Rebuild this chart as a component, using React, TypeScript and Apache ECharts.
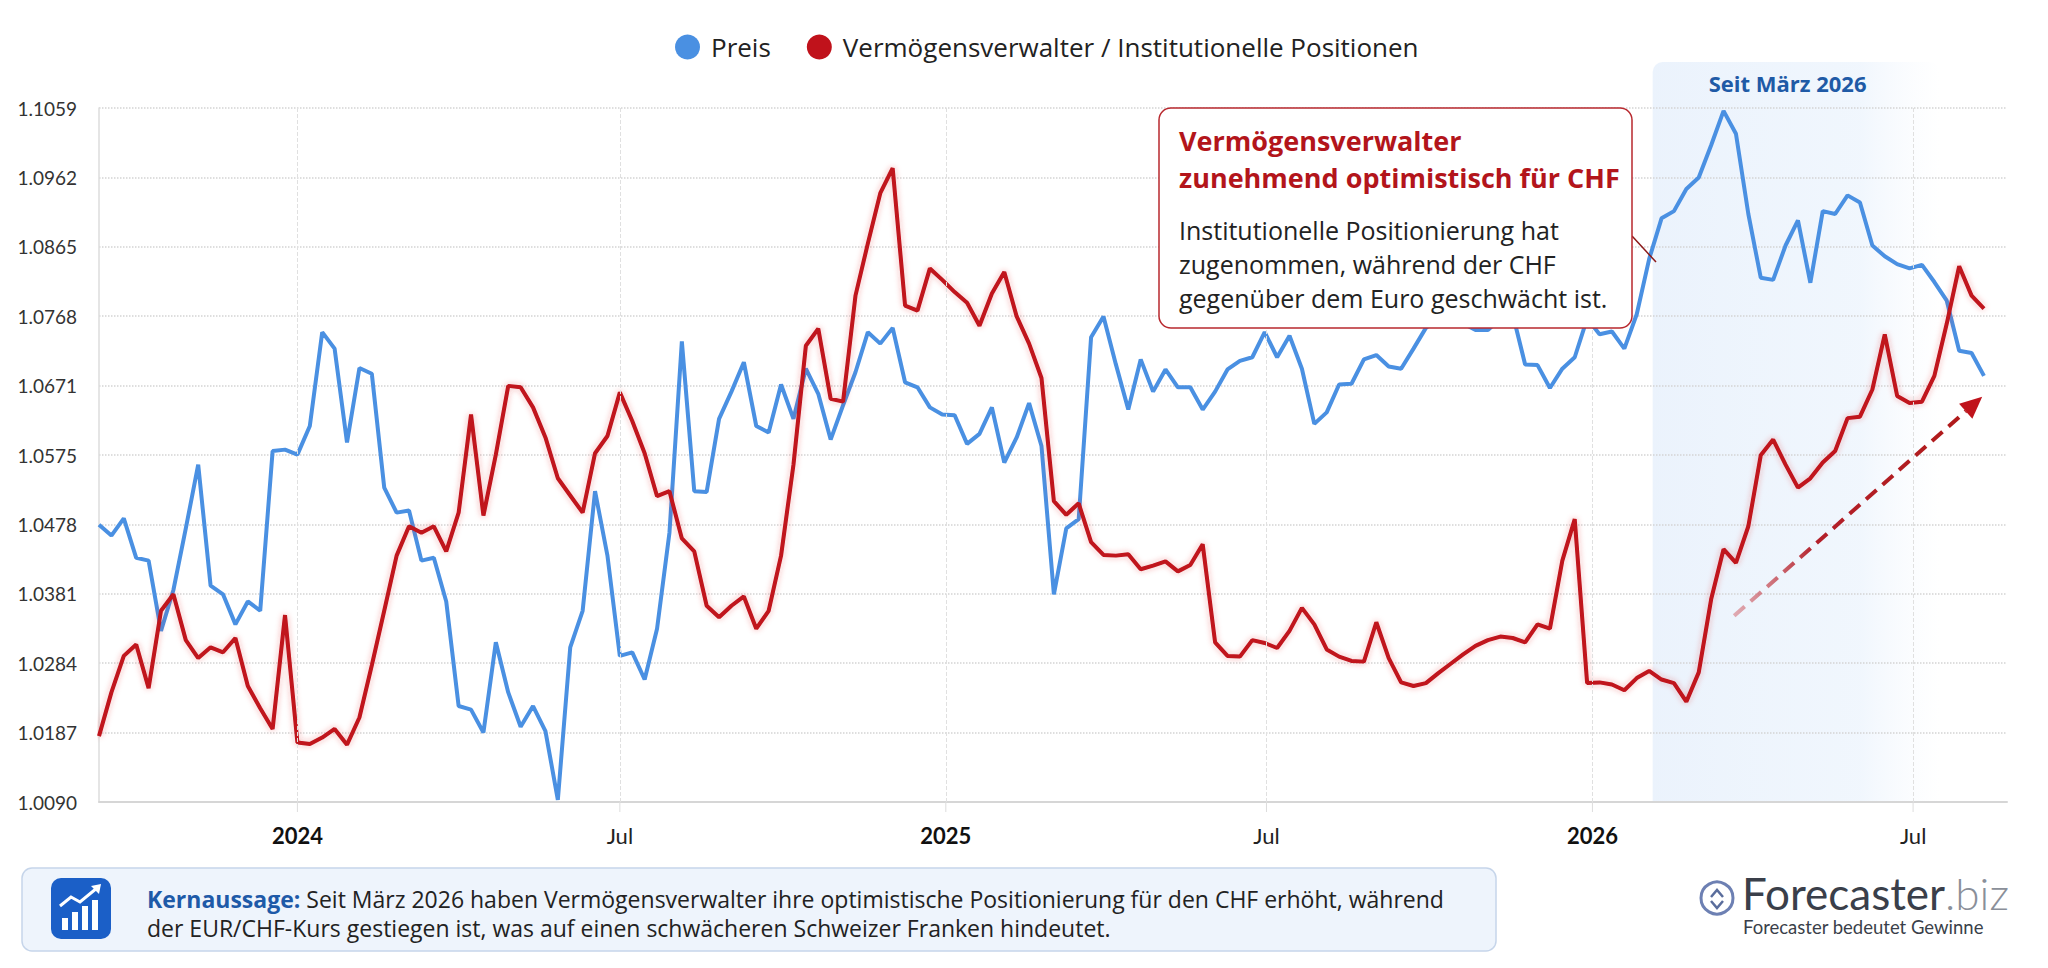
import React, { useEffect, useRef } from 'react';
import * as echarts from 'echarts';

const DAY = 86400000;
const utc = (s: string) => {
  const [y, m, d] = s.split('-').map(Number);
  return Date.UTC(y, m - 1, d);
};

// weekly observations, first week starting 2023-09-11
const firstWeek = '2023-09-11';
const axisStart = '2023-09-11';
const axisEnd = '2026-08-23';
const xTickDates = ['2024-01-01', '2024-07-01', '2025-01-01', '2025-07-01', '2026-01-01', '2026-07-01'];

const yTickLabels = ['1.0090', '1.0187', '1.0284', '1.0381', '1.0478', '1.0575', '1.0671', '1.0768', '1.0865', '1.0962', '1.1059'];

// EUR/CHF price
const priceValues = [
  1.0477, 1.0462, 1.0486, 1.0431, 1.0427, 1.0329, 1.0386, 1.0472, 1.0561, 1.0392,
  1.0380, 1.0338, 1.0370, 1.0357, 1.0580, 1.0582, 1.0575, 1.0615, 1.0746, 1.0723,
  1.0592, 1.0696, 1.0688, 1.0529, 1.0494, 1.0497, 1.0427, 1.0431, 1.0370, 1.0224,
  1.0219, 1.0187, 1.0313, 1.0243, 1.0195, 1.0224, 1.0189, 1.0093, 1.0306, 1.0357,
  1.0524, 1.0434, 1.0294, 1.0299, 1.0261, 1.0332, 1.0466, 1.0733, 1.0524, 1.0523,
  1.0625, 1.0663, 1.0704, 1.0615, 1.0606, 1.0673, 1.0625, 1.0695, 1.0660, 1.0596,
  1.0644, 1.0690, 1.0746, 1.0730, 1.0752, 1.0676, 1.0669, 1.0641, 1.0631, 1.0630,
  1.0590, 1.0604, 1.0641, 1.0564, 1.0599, 1.0647, 1.0587, 1.0380, 1.0472, 1.0485,
  1.0739, 1.0768, 1.0701, 1.0638, 1.0708, 1.0663, 1.0694, 1.0669, 1.0669, 1.0638,
  1.0663, 1.0694, 1.0706, 1.0711, 1.0746, 1.0711, 1.0741, 1.0695, 1.0618, 1.0634,
  1.0673, 1.0674, 1.0708, 1.0714, 1.0698, 1.0695, 1.0723, 1.0752, 1.0765, 1.0771,
  1.0758, 1.0749, 1.0749, 1.0765, 1.0771, 1.0701, 1.0700, 1.0668, 1.0695, 1.0711,
  1.0765, 1.0743, 1.0747, 1.0723, 1.0771, 1.0848, 1.0905, 1.0915, 1.0946, 1.0962,
  1.1007, 1.1055, 1.1023, 1.0911, 1.0822, 1.0819, 1.0867, 1.0902, 1.0815, 1.0915,
  1.0911, 1.0937, 1.0927, 1.0867, 1.0852, 1.0841, 1.0835, 1.0840, 1.0816, 1.0790,
  1.0720, 1.0717, 1.0685,
];

// asset manager / institutional positioning (same scale)
const positionValues = [
  1.0182, 1.0243, 1.0294, 1.0310, 1.0249, 1.0357, 1.0380, 1.0316, 1.0291, 1.0306,
  1.0299, 1.0319, 1.0252, 1.0221, 1.0192, 1.0351, 1.0173, 1.0171, 1.0180, 1.0192,
  1.0170, 1.0208, 1.0281, 1.0357, 1.0434, 1.0475, 1.0466, 1.0475, 1.0440, 1.0494,
  1.0631, 1.0490, 1.0575, 1.0671, 1.0669, 1.0641, 1.0599, 1.0542, 1.0518, 1.0494,
  1.0577, 1.0601, 1.0662, 1.0622, 1.0577, 1.0517, 1.0524, 1.0458, 1.0440, 1.0364,
  1.0348, 1.0364, 1.0377, 1.0332, 1.0357, 1.0434, 1.0561, 1.0727, 1.0751, 1.0653,
  1.0649, 1.0797, 1.0870, 1.0940, 1.0975, 1.0783, 1.0776, 1.0835, 1.0819, 1.0802,
  1.0787, 1.0755, 1.0800, 1.0830, 1.0768, 1.0730, 1.0682, 1.0510, 1.0491, 1.0507,
  1.0453, 1.0435, 1.0434, 1.0436, 1.0415, 1.0420, 1.0426, 1.0412, 1.0421, 1.0450,
  1.0313, 1.0294, 1.0293, 1.0316, 1.0312, 1.0305, 1.0329, 1.0361, 1.0338, 1.0303,
  1.0293, 1.0287, 1.0286, 1.0341, 1.0291, 1.0257, 1.0252, 1.0256, 1.0270, 1.0283,
  1.0296, 1.0308, 1.0316, 1.0321, 1.0319, 1.0313, 1.0338, 1.0332, 1.0427, 1.0485,
  1.0256, 1.0257, 1.0254, 1.0246, 1.0263, 1.0273, 1.0261, 1.0256, 1.0230, 1.0271,
  1.0373, 1.0443, 1.0424, 1.0475, 1.0574, 1.0596, 1.0561, 1.0529, 1.0542, 1.0564,
  1.0580, 1.0626, 1.0628, 1.0666, 1.0743, 1.0657, 1.0647, 1.0649, 1.0685, 1.0758,
  1.0838, 1.0797, 1.0779,
];

const weekDates = priceValues.map((_, i) => utc(firstWeek) + i * 7 * DAY);

// highlighted period and trend arrow
const shadeStart = '2026-02-04';
const shadeEnd = '2026-07-16';
const trendFrom: [string, number] = ['2026-03-22', 1.0350];
const trendTo: [string, number] = ['2026-08-09', 1.0656];

const BLUE = '#4a90e2';
const RED = '#c0121b';
const FONT = 'Lato';
const SANS = 'Open Sans';
const months = ['Jan', 'Feb', 'Mar', 'Apr', 'May', 'Jun', 'Jul', 'Aug', 'Sep', 'Oct', 'Nov', 'Dec'];

export default function App() {
  const chartRef = useRef<HTMLDivElement>(null);

  useEffect(() => {
    document.body.style.margin = '0';
    if (!chartRef.current) return;
    const chart = echarts.init(chartRef.current, null, { renderer: 'svg' });
    const tickValues = xTickDates.map(utc);

    chart.setOption({
      animation: false,
      useUTC: true,
      backgroundColor: '#ffffff',
      textStyle: { fontFamily: FONT },
      legend: {
        top: 29,
        left: 670,
        icon: 'circle',
        itemWidth: 25,
        itemHeight: 25,
        itemGap: 36,
        textStyle: { fontSize: 26, color: '#222', fontFamily: SANS, padding: [0, 0, 0, 6] },
        data: ['Preis', 'Vermögensverwalter / Institutionelle Positionen'],
      },
      grid: { left: 99, right: 41, top: 108, bottom: 166 },
      xAxis: {
        type: 'time',
        min: utc(axisStart),
        max: utc(axisEnd),
        axisLine: { lineStyle: { color: '#d6d6d6', width: 2 } },
        axisTick: { show: false },
        splitLine: { show: false },
        axisLabel: {
          margin: 22,
          fontSize: 22,
          color: '#222',
          showMinLabel: false,
          showMaxLabel: false,
          formatter: (value: number) => {
            const d = new Date(value);
            if (d.getUTCMonth() === 0 && d.getUTCDate() === 1) return '{y|' + d.getUTCFullYear() + '}';
            if (d.getUTCMonth() === 6 && d.getUTCDate() === 1) return '{m|' + months[d.getUTCMonth()] + '}';
            return '';
          },
          rich: {
            y: { fontSize: 22, fontWeight: 'bold', color: '#111', fontFamily: FONT },
            m: { fontSize: 22, color: '#222', fontFamily: FONT },
          },
        },
      },
      yAxis: {
        type: 'value',
        min: 1.009,
        max: 1.1059,
        interval: 0.00969,
        axisLine: { show: true, lineStyle: { color: '#dcdcdc', width: 1.5 } },
        axisTick: { show: false },
        splitLine: { show: true, lineStyle: { type: 'dotted', color: '#d4d4d4', width: 1.5 } },
        axisLabel: {
          margin: 22,
          fontSize: 19,
          color: '#333',
          formatter: (v: number) => {
            let best = yTickLabels[0];
            yTickLabels.forEach((t) => {
              if (Math.abs(Number(t) - v) < Math.abs(Number(best) - v)) best = t;
            });
            return best;
          },
        },
      },
      series: [
        {
          name: 'Preis',
          type: 'line',
          showSymbol: false,
          symbol: 'circle',
          itemStyle: { color: BLUE },
          lineStyle: { color: BLUE, width: 4 },
          z: 3,
          data: weekDates.map((d, i) => [d, priceValues[i]]),
          markLine: {
            silent: true,
            symbol: ['none', 'none'],
            label: { show: false },
            lineStyle: { type: 'dashed', color: '#e0e0e0', width: 1 },
            emphasis: { disabled: true },
            data: tickValues.map((t) => ({ xAxis: t })),
          },
        },
        {
          name: 'Vermögensverwalter / Institutionelle Positionen',
          type: 'line',
          showSymbol: false,
          symbol: 'circle',
          itemStyle: { color: RED },
          lineStyle: { color: RED, width: 4, shadowBlur: 6, shadowColor: 'rgba(220,40,40,0.35)' },
          z: 4,
          data: weekDates.map((d, i) => [d, positionValues[i]]),
        },
      ],
    });

    const sx0 = chart.convertToPixel({ xAxisIndex: 0 }, utc(shadeStart)) as number;
    const sx1 = chart.convertToPixel({ xAxisIndex: 0 }, utc(shadeEnd)) as number;
    const a0 = chart.convertToPixel({ xAxisIndex: 0, yAxisIndex: 0 }, [utc(trendFrom[0]), trendFrom[1]]) as number[];
    const a1 = chart.convertToPixel({ xAxisIndex: 0, yAxisIndex: 0 }, [utc(trendTo[0]), trendTo[1]]) as number[];
    const len = Math.hypot(a1[0] - a0[0], a1[1] - a0[1]);
    const ux = (a1[0] - a0[0]) / len;
    const uy = (a1[1] - a0[1]) / len;
    const headLen = 22;
    const headW = 10;
    const bx = a1[0] - ux * headLen;
    const by = a1[1] - uy * headLen;
    // small ticks below the axis at the half-year marks
    const axisY = chart.convertToPixel({ yAxisIndex: 0 }, 1.009) as number;
    const tickMarks = tickValues.map((t) => {
      const x = chart.convertToPixel({ xAxisIndex: 0 }, t) as number;
      return { type: 'line', z: 1, silent: true, shape: { x1: x, y1: axisY, x2: x, y2: axisY + 10 }, style: { stroke: '#dddddd', lineWidth: 1 } };
    });

    chart.setOption({
      graphic: [
        {
          type: 'rect',
          z: -10,
          silent: true,
          shape: { x: sx0, y: 62, width: sx1 - sx0, height: 740, r: [10, 10, 0, 0] },
          style: {
            fill: new echarts.graphic.LinearGradient(0, 0, 1, 0, [
              { offset: 0, color: 'rgba(234,242,252,0.95)' },
              { offset: 0.72, color: 'rgba(238,245,253,0.85)' },
              { offset: 1, color: 'rgba(244,248,254,0)' },
            ]),
          },
        },
        ...tickMarks,
        {
          type: 'text',
          z: 5,
          x: sx0 + (sx1 - sx0) * 0.47,
          y: 83,
          style: { text: 'Seit März 2026', fill: '#1f5aa6', fontSize: 22, fontWeight: 'bold', fontFamily: SANS, align: 'center', verticalAlign: 'middle' },
        },
        // trend arrow
        {
          type: 'line',
          z: 6,
          silent: true,
          shape: { x1: a0[0], y1: a0[1], x2: bx, y2: by },
          style: {
            lineWidth: 4,
            lineDash: [14, 8],
            stroke: new echarts.graphic.LinearGradient(0, 0, 1, 0, [
              { offset: 0, color: 'rgba(214,120,128,0.6)' },
              { offset: 0.35, color: '#b3202a' },
              { offset: 1, color: '#b01a1a' },
            ]),
          },
        },
        {
          type: 'polygon',
          z: 6,
          silent: true,
          shape: {
            points: [
              [a1[0], a1[1]],
              [bx - uy * headW, by + ux * headW],
              [bx + uy * headW, by - ux * headW],
            ],
          },
          style: { fill: '#c0141c' },
        },
        // annotation box
        {
          type: 'line',
          z: 20,
          shape: { x1: 1632, y1: 236, x2: 1656, y2: 262 },
          style: { stroke: '#8b1a1a', lineWidth: 1.5 },
        },
        {
          type: 'rect',
          z: 21,
          shape: { x: 1159, y: 108, width: 473, height: 220, r: 12 },
          style: { fill: '#ffffff', stroke: '#b8282e', lineWidth: 1.5 },
        },
        {
          type: 'text',
          z: 22,
          x: 1179,
          y: 140,
          style: { text: 'Vermögensverwalter', fill: '#b3151b', fontSize: 27, fontWeight: 'bold', fontFamily: SANS, verticalAlign: 'middle' },
        },
        {
          type: 'text',
          z: 22,
          x: 1179,
          y: 177,
          style: { text: 'zunehmend optimistisch für CHF', fill: '#b3151b', fontSize: 27, fontWeight: 'bold', fontFamily: SANS, verticalAlign: 'middle' },
        },
        {
          type: 'text',
          z: 22,
          x: 1179,
          y: 230,
          style: { text: 'Institutionelle Positionierung hat', fill: '#222', fontSize: 25, fontFamily: SANS, verticalAlign: 'middle' },
        },
        {
          type: 'text',
          z: 22,
          x: 1179,
          y: 264,
          style: { text: 'zugenommen, während der CHF', fill: '#222', fontSize: 25, fontFamily: SANS, verticalAlign: 'middle' },
        },
        {
          type: 'text',
          z: 22,
          x: 1179,
          y: 298,
          style: { text: 'gegenüber dem Euro geschwächt ist.', fill: '#222', fontSize: 25, fontFamily: SANS, verticalAlign: 'middle' },
        },
        // key message box
        {
          type: 'rect',
          z: 20,
          shape: { x: 22, y: 868, width: 1474, height: 83, r: 10 },
          style: { fill: '#eef4fc', stroke: '#c6d5ea', lineWidth: 1.5 },
        },
        {
          type: 'rect',
          z: 21,
          shape: { x: 51, y: 878, width: 60, height: 61, r: 10 },
          style: { fill: '#1b5fc7' },
        },
        { type: 'rect', z: 22, shape: { x: 62, y: 918, width: 6, height: 12 }, style: { fill: '#fff' } },
        { type: 'rect', z: 22, shape: { x: 72, y: 912, width: 6, height: 18 }, style: { fill: '#fff' } },
        { type: 'rect', z: 22, shape: { x: 82, y: 906, width: 6, height: 24 }, style: { fill: '#fff' } },
        { type: 'rect', z: 22, shape: { x: 92, y: 900, width: 6, height: 30 }, style: { fill: '#fff' } },
        {
          type: 'polyline',
          z: 22,
          shape: { points: [[60, 906], [71, 897], [80, 902], [97, 888]] },
          style: { stroke: '#fff', lineWidth: 3, fill: null },
        },
        {
          type: 'polygon',
          z: 22,
          shape: { points: [[101, 884], [91, 886], [99, 894]] },
          style: { fill: '#fff' },
        },
        {
          type: 'text',
          z: 22,
          x: 147,
          y: 899,
          style: {
            text: '{k|Kernaussage:} Seit März 2026 haben Vermögensverwalter ihre optimistische Positionierung für den CHF erhöht, während',
            fill: '#222',
            fontSize: 23,
            fontFamily: SANS,
            verticalAlign: 'middle',
            rich: { k: { fill: '#1e5aa8', fontWeight: 'bold', fontSize: 23, fontFamily: SANS } },
          },
        },
        {
          type: 'text',
          z: 22,
          x: 147,
          y: 928,
          style: {
            text: 'der EUR/CHF-Kurs gestiegen ist, was auf einen schwächeren Schweizer Franken hindeutet.',
            fill: '#222',
            fontSize: 23,
            fontFamily: SANS,
            verticalAlign: 'middle',
          },
        },
        // logo
        {
          type: 'circle',
          z: 22,
          shape: { cx: 1717, cy: 898, r: 16 },
          style: { fill: 'none', stroke: '#6d80b3', lineWidth: 3 },
        },
        {
          type: 'polyline',
          z: 22,
          shape: { points: [[1711, 897], [1717, 890], [1723, 897]] },
          style: { stroke: '#5a6d9c', lineWidth: 2.5, fill: null },
        },
        {
          type: 'polyline',
          z: 22,
          shape: { points: [[1711, 901], [1717, 908], [1723, 901]] },
          style: { stroke: '#5a6d9c', lineWidth: 2.5, fill: null },
        },
        {
          type: 'text',
          z: 22,
          x: 1742,
          y: 893,
          style: {
            text: '{a|Forecaster}{b|.biz}',
            verticalAlign: 'middle',
            rich: {
              a: { fill: '#3a3f4a', fontSize: 44, lineHeight: 36, fontFamily: FONT },
              b: { fill: '#8a8f99', fontSize: 44, lineHeight: 36, fontFamily: FONT, fontWeight: 300 },
            },
          },
        },
        {
          type: 'text',
          z: 22,
          x: 1743,
          y: 927,
          style: { text: 'Forecaster bedeutet Gewinne', fill: '#3a3f4a', fontSize: 18.5, lineHeight: 18, fontFamily: FONT, verticalAlign: 'middle' },
        },
      ],
    });

    return () => {
      chart.dispose();
    };
  }, []);

  return <div ref={chartRef} style={{ width: '2048px', height: '968px', background: '#fff' }} />;
}
